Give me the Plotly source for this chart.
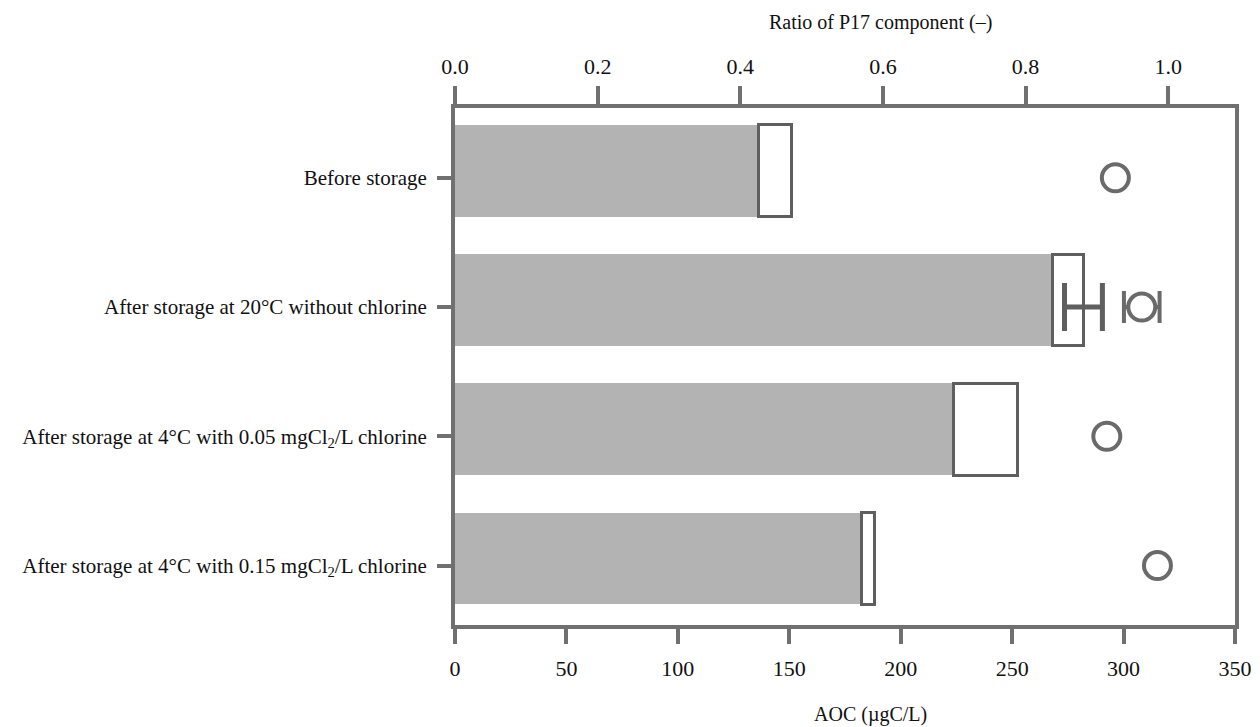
import plotly.graph_objects as go

categories = [
    "Before storage",
    "After storage at 20°C without chlorine",
    "After storage at 4°C with 0.05 mgCl<sub>2</sub>/L chlorine",
    "After storage at 4°C with 0.15 mgCl<sub>2</sub>/L chlorine",
]
aoc_p17 = [136, 268, 223.5, 182.6]        # gray part (µgC/L)
aoc_nox = [15, 14, 29, 5.8]              # white part on top (µgC/L)
aoc_err = [None, 8.5, None, None]
ratio_p17 = [0.926, 0.963, 0.914, 0.985]
ratio_err = [None, 0.025, None, None]

AX = "#707070"
FONT = "Liberation Serif"

# page has an 8px body margin
OFF = 8
W, H = 1260, 727
L, R_EDGE, T, B_EDGE = 455 - OFF, 1235 - OFF, 108 - OFF, 625 - OFF

# points that carry error bars
err_idx = [i for i, e in enumerate(aoc_err) if e is not None]
rerr_idx = [i for i, e in enumerate(ratio_err) if e is not None]

fig = go.Figure()
fig.add_trace(go.Bar(
    y=categories, x=aoc_p17, orientation="h",
    marker=dict(color="#b3b3b3", line=dict(width=0)),
    width=0.71, offset=-0.41, showlegend=False,
))
fig.add_trace(go.Bar(
    y=categories, x=aoc_nox, orientation="h",
    marker=dict(color="white", line=dict(color="#5f5f5f", width=3)),
    width=0.71, offset=-0.41, showlegend=False,
))
fig.add_trace(go.Scatter(
    y=[categories[i] for i in err_idx],
    x=[aoc_p17[i] + aoc_nox[i] for i in err_idx],
    mode="markers", marker=dict(size=1, color="rgba(0,0,0,0)"),
    error_x=dict(type="data", array=[aoc_err[i] for i in err_idx], visible=True,
                 color="#5f5f5f", thickness=5, width=24),
    showlegend=False, hoverinfo="skip",
))
fig.add_trace(go.Scatter(
    y=[categories[i] for i in rerr_idx],
    x=[ratio_p17[i] for i in rerr_idx], xaxis="x2",
    mode="markers", marker=dict(size=1, color="rgba(0,0,0,0)"),
    error_x=dict(type="data", array=[ratio_err[i] for i in rerr_idx], visible=True,
                 color="#6a6a6a", thickness=4, width=16),
    showlegend=False, hoverinfo="skip",
))
fig.add_trace(go.Scatter(
    y=categories, x=ratio_p17, xaxis="x2", mode="markers",
    marker=dict(symbol="circle", size=27, color="white",
                line=dict(width=4, color="#6a6a6a")),
    showlegend=False,
))

pw = R_EDGE - L
ph = B_EDGE - T
fig.update_layout(
    width=W, height=H,
    margin=dict(l=L, r=W - R_EDGE, t=T, b=H - B_EDGE, autoexpand=False),
    paper_bgcolor="white", plot_bgcolor="white",
    barmode="stack",
    font=dict(family=FONT, size=20, color="#111"),
    xaxis=dict(range=[0, 350], dtick=50, showgrid=False, zeroline=False,
               showline=True, linecolor=AX, linewidth=4,
               ticks="outside", ticklen=15, tickwidth=4, tickcolor=AX,
               tickfont=dict(size=22, family=FONT), ticklabelstandoff=6),
    xaxis2=dict(range=[0, 350 / 320], dtick=0.2, tickformat=".1f",
                overlaying="x", side="top", showgrid=False, zeroline=False,
                showline=True, linecolor=AX, linewidth=4,
                ticks="outside", ticklen=18, tickwidth=4, tickcolor=AX,
                tickfont=dict(size=22, family=FONT), ticklabelstandoff=3),
    yaxis=dict(type="category", categoryorder="array", categoryarray=categories,
               autorange=False, range=[3.46, -0.54], showgrid=False,
               showline=True, linecolor=AX, linewidth=4, mirror=True,
               ticks="outside", ticklen=14, tickwidth=4, tickcolor=AX,
               tickfont=dict(size=21, family=FONT), ticklabelstandoff=6),
    annotations=[
        dict(text="Ratio of P17 component (–)",
             x=(880 - OFF - L) / pw, y=(B_EDGE - (22 - OFF)) / ph,
             xref="paper", yref="paper", xanchor="center", yanchor="middle",
             showarrow=False, font=dict(size=20, family=FONT)),
        dict(text="AOC (µgC/L)",
             x=(870 - OFF - L) / pw, y=(B_EDGE - (714 - OFF)) / ph,
             xref="paper", yref="paper", xanchor="center", yanchor="middle",
             showarrow=False, font=dict(size=20, family=FONT)),
    ],
)

fig.write_html("out.html")
